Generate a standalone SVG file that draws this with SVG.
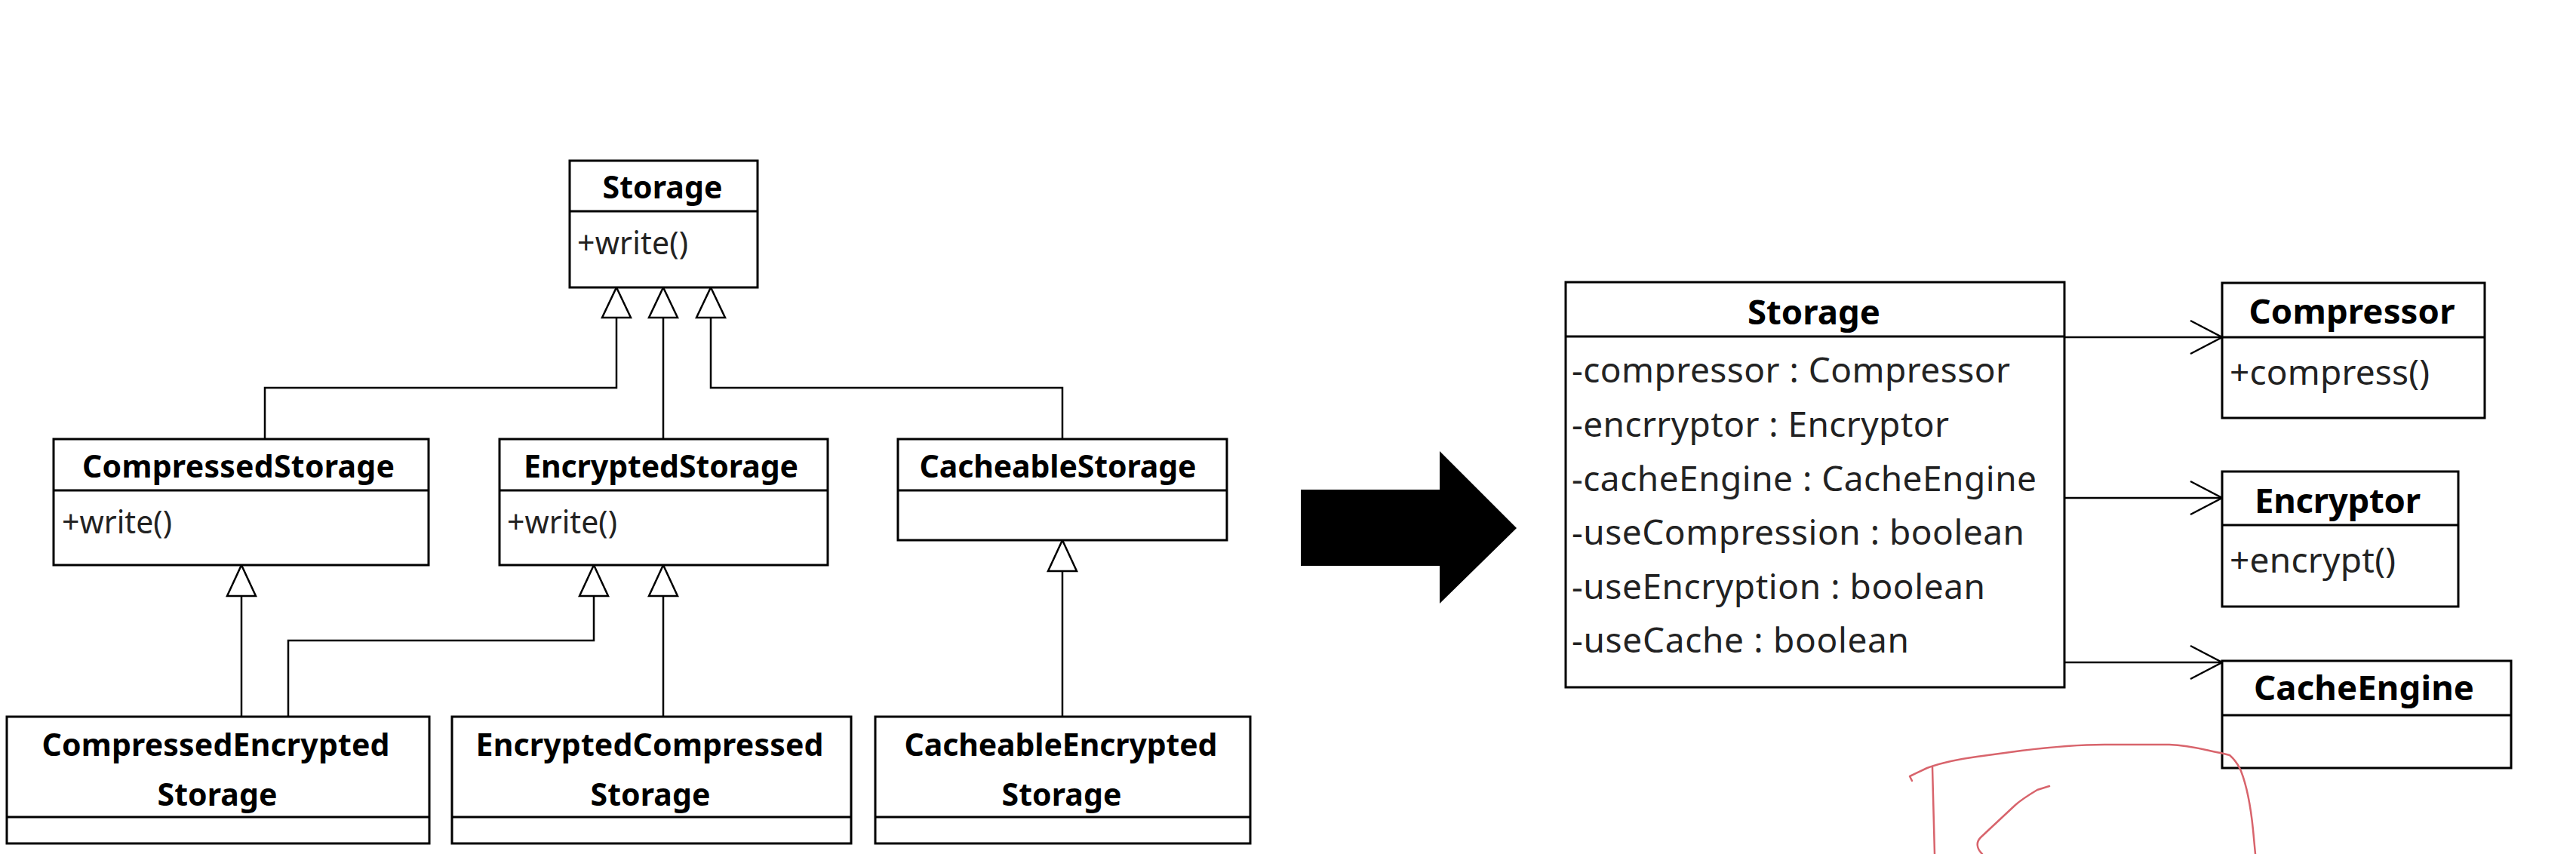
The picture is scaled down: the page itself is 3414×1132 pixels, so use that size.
<svg xmlns="http://www.w3.org/2000/svg" width="3414" height="1132" viewBox="0 0 3414 1132">
<style>
.box{fill:#fff;stroke:#000;stroke-width:3}
.dv{stroke:#000;stroke-width:3}
.t{font-family:"Noto Sans","DejaVu Sans",sans-serif;font-weight:bold;fill:#000;text-anchor:middle}
.m{font-family:"Noto Sans","DejaVu Sans",sans-serif;fill:#222}
.l41{font-size:41px}
.r45{font-size:45.5px}
.r46{font-size:46px}
.ln{fill:none;stroke:#000;stroke-width:2.5}
.gen{fill:#fff;stroke:#000;stroke-width:2.5;stroke-linejoin:miter}
.open{fill:none;stroke:#000;stroke-width:2.5}
.red{fill:none;stroke:#d8646c;stroke-width:2.5;stroke-linejoin:round;stroke-linecap:round}
</style>
<rect x="0" y="0" width="3414" height="1132" fill="#fff"/>

<g id="connectors">
  <path class="ln" d="M817,420 V514 H351 V582"/>
  <path class="ln" d="M879,420 V582"/>
  <path class="ln" d="M942,420 V514 H1408 V582"/>
  <path class="ln" d="M320,790 V950"/>
  <path class="ln" d="M787,790 V849 H382 V950"/>
  <path class="ln" d="M879,790 V950"/>
  <path class="ln" d="M1408,757 V950"/>
  <polygon class="gen" points="817,381 836,421 798,421"/>
  <polygon class="gen" points="879,381 898,421 860,421"/>
  <polygon class="gen" points="942,381 961,421 923,421"/>
  <polygon class="gen" points="320,749 339,790 301,790"/>
  <polygon class="gen" points="787,749 806,790 768,790"/>
  <polygon class="gen" points="879,749 898,790 860,790"/>
  <polygon class="gen" points="1408,716 1427,757 1389,757"/>
  <path class="ln" d="M2736,447 H2945"/>
  <path class="ln" d="M2736,660 H2945"/>
  <path class="ln" d="M2736,878 H2945"/>
  <polyline class="open" points="2903,425 2945,447 2903,469"/>
  <polyline class="open" points="2903,638 2945,660 2903,682"/>
  <polyline class="open" points="2903,856 2945,878 2903,900"/>
</g>

<g id="storage-top">
  <rect class="box" x="755" y="213" width="249" height="168"/>
  <line class="dv" x1="755" y1="280" x2="1004" y2="280"/>
  <text class="t l41" x="878" y="263" textLength="159">Storage</text>
  <text class="m l41" x="765" y="337" textLength="147">+write()</text>
</g>
<g id="compressed-storage">
  <rect class="box" x="71" y="582" width="497" height="167"/>
  <line class="dv" x1="71" y1="650" x2="568" y2="650"/>
  <text class="t l41" x="316" y="633" textLength="414">CompressedStorage</text>
  <text class="m l41" x="82" y="707" textLength="146">+write()</text>
</g>
<g id="encrypted-storage">
  <rect class="box" x="662" y="582" width="435" height="167"/>
  <line class="dv" x1="662" y1="650" x2="1097" y2="650"/>
  <text class="t l41" x="876" y="633" textLength="364">EncryptedStorage</text>
  <text class="m l41" x="672" y="707" textLength="146">+write()</text>
</g>
<g id="cacheable-storage">
  <rect class="box" x="1190" y="582" width="436" height="134"/>
  <line class="dv" x1="1190" y1="650" x2="1626" y2="650"/>
  <text class="t l41" x="1402" y="633" textLength="367">CacheableStorage</text>
</g>
<g id="compressed-encrypted-storage">
  <rect class="box" x="9" y="950" width="560" height="168"/>
  <line class="dv" x1="9" y1="1083" x2="569" y2="1083"/>
  <text class="t l41" x="286" y="1002" textLength="461">CompressedEncrypted</text>
  <text class="t l41" x="288" y="1068" textLength="159">Storage</text>
</g>
<g id="encrypted-compressed-storage">
  <rect class="box" x="599" y="950" width="529" height="168"/>
  <line class="dv" x1="599" y1="1083" x2="1128" y2="1083"/>
  <text class="t l41" x="861" y="1002" textLength="461">EncryptedCompressed</text>
  <text class="t l41" x="862" y="1068" textLength="159">Storage</text>
</g>
<g id="cacheable-encrypted-storage">
  <rect class="box" x="1160" y="950" width="497" height="168"/>
  <line class="dv" x1="1160" y1="1083" x2="1657" y2="1083"/>
  <text class="t l41" x="1406" y="1002" textLength="415">CacheableEncrypted</text>
  <text class="t l41" x="1407" y="1068" textLength="159">Storage</text>
</g>

<g id="transform-arrow">
  <polygon points="1724,649 1908,649 1908,598 2010,700 1908,800 1908,750 1724,750" fill="#000"/>
</g>

<g id="storage-right">
  <rect class="box" x="2075" y="374" width="661" height="537"/>
  <line class="dv" x1="2075" y1="446" x2="2736" y2="446"/>
  <text class="t r45" x="2404" y="430" textLength="176">Storage</text>
  <text class="m r46" x="2083" y="507" textLength="581">-compressor : Compressor</text>
  <text class="m r46" x="2083" y="579" textLength="500">-encrryptor : Encryptor</text>
  <text class="m r46" x="2083" y="651" textLength="616">-cacheEngine : CacheEngine</text>
  <text class="m r46" x="2083" y="722" textLength="600">-useCompression : boolean</text>
  <text class="m r46" x="2083" y="794" textLength="548">-useEncryption : boolean</text>
  <text class="m r46" x="2083" y="865" textLength="447">-useCache : boolean</text>
</g>
<g id="compressor">
  <rect class="box" x="2945" y="375" width="348" height="179"/>
  <line class="dv" x1="2945" y1="447" x2="3293" y2="447"/>
  <text class="t r45" x="3117" y="429" textLength="273">Compressor</text>
  <text class="m r46" x="2955" y="510" textLength="265">+compress()</text>
</g>
<g id="encryptor">
  <rect class="box" x="2945" y="625" width="313" height="179"/>
  <line class="dv" x1="2945" y1="696" x2="3258" y2="696"/>
  <text class="t r45" x="3098" y="680" textLength="220">Encryptor</text>
  <text class="m r46" x="2955" y="759" textLength="220">+encrypt()</text>
</g>
<g id="cache-engine">
  <rect class="box" x="2945" y="876" width="383" height="142"/>
  <line class="dv" x1="2945" y1="948" x2="3328" y2="948"/>
  <text class="t r45" x="3133" y="928" textLength="292">CacheEngine</text>
</g>

<g id="scribble">
  <path class="red" d="M2534,1035 L2531,1029 L2554,1018 C2570,1012 2590,1007 2620,1003 L2679,995 C2720,990 2760,987 2789,987 L2875,987 C2905,988 2925,995 2943,998 L2955,1001 C2963,1008 2967,1015 2970,1022 C2977,1040 2983,1070 2986,1100 L2989,1132"/>
  <path class="red" d="M2561,1017 L2564,1132"/>
  <path class="red" d="M2716,1042 L2700,1047 C2690,1053 2680,1059 2671,1067 L2625,1110 C2619,1116 2619,1124 2627,1132"/>
</g>
</svg>
